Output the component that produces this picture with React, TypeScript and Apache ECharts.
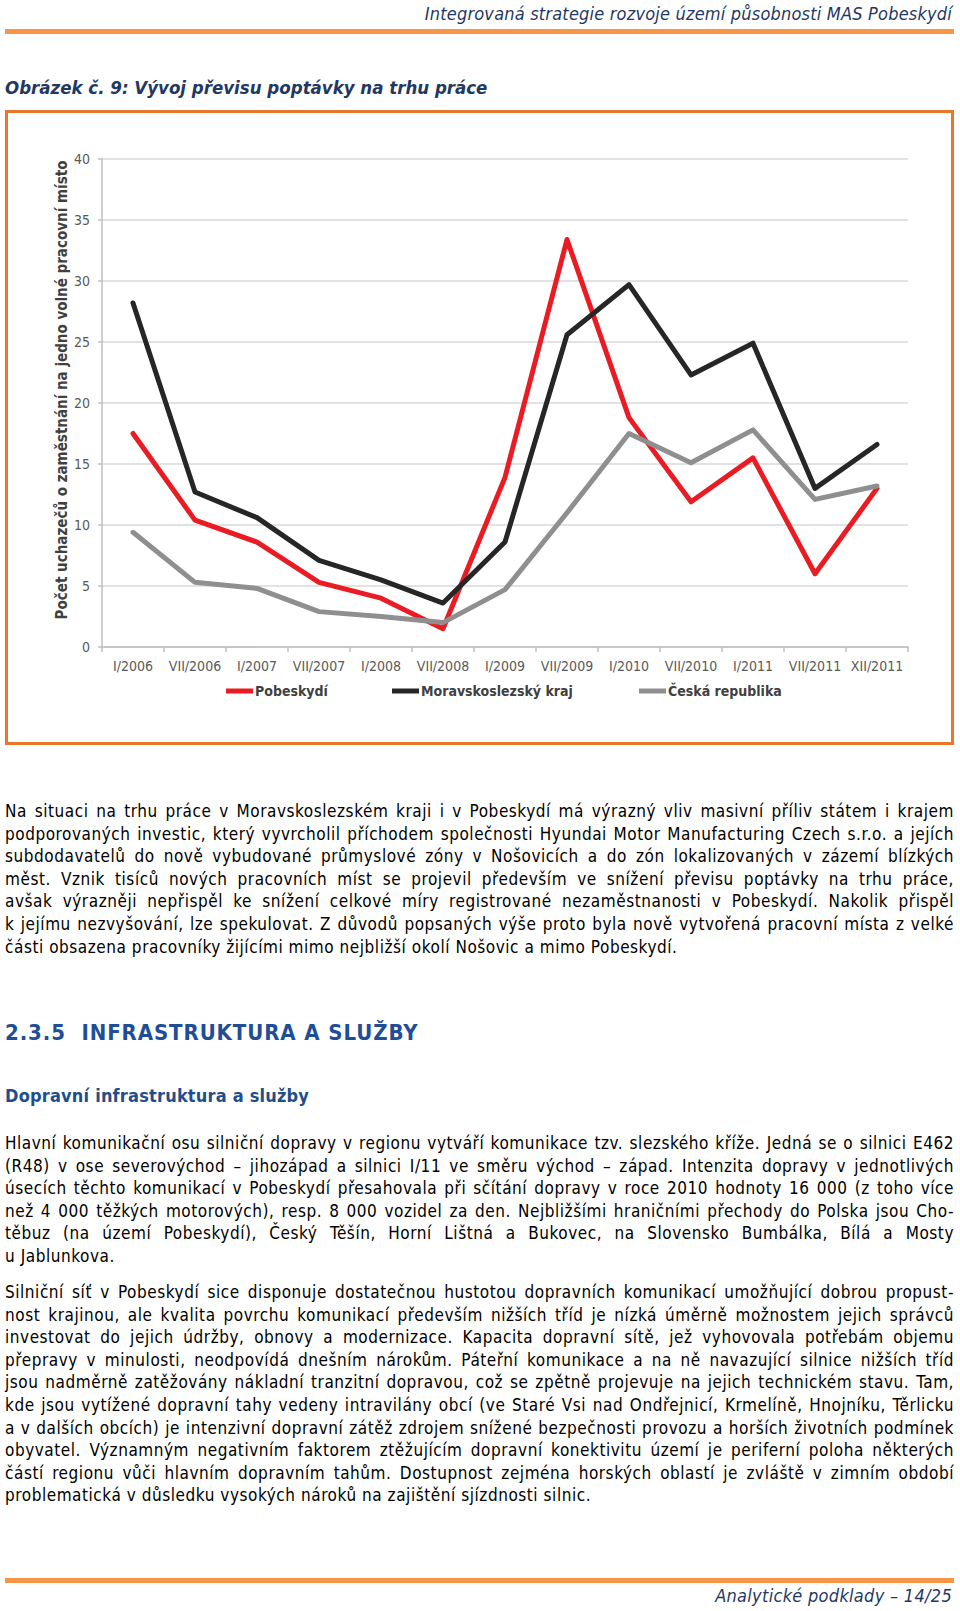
import React, { useEffect, useRef } from "react";
import * as echarts from "echarts";

const categories = ["I/2006", "VII/2006", "I/2007", "VII/2007", "I/2008", "VII/2008", "I/2009", "VII/2009", "I/2010", "VII/2010", "I/2011", "VII/2011", "XII/2011"];
const pobeskydi = [17.5, 10.4, 8.6, 5.3, 4.0, 1.5, 13.9, 33.4, 18.8, 11.9, 15.5, 6.0, 13.0];
const moravskoslezsky = [28.2, 12.7, 10.6, 7.1, 5.5, 3.6, 8.6, 25.6, 29.7, 22.3, 24.9, 13.0, 16.6];
const ceskaRepublika = [9.4, 5.3, 4.8, 2.9, 2.5, 2.0, 4.7, 11.0, 17.5, 15.1, 17.8, 12.1, 13.2];
const seriesNames = ["Pobeskydí", "Moravskoslezský kraj", "Česká republika"];
const yAxisTitle = "Počet uchazečů o zaměstnání na jedno volné pracovní místo";

const headerText = "Integrovaná strategie rozvoje území působnosti MAS Pobeskydí";
const figureTitle = "Obrázek č. 9: Vývoj převisu poptávky na trhu práce";
const sectionHeading = "2.3.5\u00a0\u00a0INFRASTRUKTURA A SLUŽBY";
const subHeading = "Dopravní infrastruktura a služby";
const footerText = "Analytické podklady – 14/25";

const para1 = [
  "Na situaci na trhu práce v Moravskoslezském kraji i v Pobeskydí má výrazný vliv masivní příliv státem i krajem",
  "podporovaných investic, který vyvrcholil příchodem společnosti Hyundai Motor Manufacturing Czech s.r.o. a jejích",
  "subdodavatelů do nově vybudované průmyslové zóny v Nošovicích a do zón lokalizovaných v zázemí blízkých",
  "měst. Vznik tisíců nových pracovních míst se projevil především ve snížení převisu poptávky na trhu práce,",
  "avšak výrazněji nepřispěl ke snížení celkové míry registrované nezaměstnanosti v Pobeskydí. Nakolik přispěl",
  "k jejímu nezvyšování, lze spekulovat. Z důvodů popsaných výše proto byla nově vytvořená pracovní místa z velké",
  "části obsazena pracovníky žijícími mimo nejbližší okolí Nošovic a mimo Pobeskydí.",
];
const para2 = [
  "Hlavní komunikační osu silniční dopravy v regionu vytváří komunikace tzv. slezského kříže. Jedná se o silnici E462",
  "(R48) v ose severovýchod – jihozápad a silnici I/11 ve směru východ – západ. Intenzita dopravy v jednotlivých",
  "úsecích těchto komunikací v Pobeskydí přesahovala při sčítání dopravy v roce 2010 hodnoty 16 000 (z toho více",
  "než 4 000 těžkých motorových), resp. 8 000 vozidel za den. Nejbližšími hraničními přechody do Polska jsou Cho-",
  "těbuz (na území Pobeskydí), Český Těšín, Horní Lištná a Bukovec, na Slovensko Bumbálka, Bílá a Mosty",
  "u Jablunkova.",
];
const para3 = [
  "Silniční síť v Pobeskydí sice disponuje dostatečnou hustotou dopravních komunikací umožňující dobrou propust-",
  "nost krajinou, ale kvalita povrchu komunikací především nižších tříd je nízká úměrně možnostem jejich správců",
  "investovat do jejich údržby, obnovy a modernizace. Kapacita dopravní sítě, jež vyhovovala potřebám objemu",
  "přepravy v minulosti, neodpovídá dnešním nárokům. Páteřní komunikace a na ně navazující silnice nižších tříd",
  "jsou nadměrně zatěžovány nákladní tranzitní dopravou, což se zpětně projevuje na jejich technickém stavu. Tam,",
  "kde jsou vytížené dopravní tahy vedeny intravilány obcí (ve Staré Vsi nad Ondřejnicí, Krmelíně, Hnojníku, Těrlicku",
  "a v dalších obcích) je intenzivní dopravní zátěž zdrojem snížené bezpečnosti provozu a horších životních podmínek",
  "obyvatel. Významným negativním faktorem ztěžujícím dopravní konektivitu území je periferní poloha některých",
  "částí regionu vůči hlavním dopravním tahům. Dostupnost zejména horských oblastí je zvláště v zimním období",
  "problematická v důsledku vysokých nároků na zajištění sjízdnosti silnic.",
];

const FONT = '"DejaVu Sans Condensed", "DejaVu Sans", sans-serif';
const NAVY = "#1F3864";
const ORANGE_BAR = "#F79646";
const ORANGE_BOX = "#E8772A";

function Paragraph({ lines, top, step }: { lines: string[]; top: number; step: number }) {
  return (
    <>
      {lines.map((t, i) => {
        const last = i === lines.length - 1;
        return (
          <div
            key={i}
            style={{
              position: "absolute",
              left: 5,
              width: 949,
              top: top + i * step - 11,
              height: 22,
              lineHeight: "22px",
              fontSize: 17,
              letterSpacing: "0.55px",
              whiteSpace: "nowrap",
              textAlign: last ? "left" : "justify",
              textAlignLast: last ? "left" : "justify",
              color: "#000",
            } as React.CSSProperties}
          >
            {t}
          </div>
        );
      })}
    </>
  );
}

function Chart() {
  const ref = useRef<HTMLDivElement>(null);
  useEffect(() => {
    if (!ref.current) return;
    const chart = echarts.init(ref.current, undefined, { renderer: "svg" });
    const colors = ["#E91C24", "#262626", "#8F8F8F"];
    const legendLefts = [226, 392, 639];
    chart.setOption({
      animation: false,
      backgroundColor: "transparent",
      grid: { left: 102, right: 52, top: 59, bottom: 113 },
      xAxis: {
        type: "category",
        data: categories,
        boundaryGap: true,
        axisLine: { show: true, lineStyle: { color: "#BFBFBF", width: 1.5 } },
        axisTick: { show: true, length: 5, lineStyle: { color: "#BFBFBF", width: 1.5 } },
        axisLabel: { interval: 0, margin: 12, fontSize: 14, color: "#595959", fontFamily: FONT },
        splitLine: { show: false },
      },
      yAxis: {
        type: "value",
        min: 0,
        max: 40,
        interval: 5,
        axisLine: { show: true, lineStyle: { color: "#BFBFBF", width: 1.5 } },
        axisTick: { show: true, length: 4, lineStyle: { color: "#BFBFBF", width: 1.5 } },
        axisLabel: { margin: 12, fontSize: 14, color: "#595959", fontFamily: FONT },
        splitLine: { show: true, lineStyle: { color: "#D9D9D9", width: 1.5 } },
      },
      legend: seriesNames.map((n, i) => ({
        data: [{ name: n, icon: "rect" }],
        left: legendLefts[i],
        top: 584,
        padding: 0,
        itemWidth: 27,
        itemHeight: 5,
        itemGap: 0,
        textStyle: { fontSize: 14, fontWeight: "bold", color: "#404040", fontFamily: FONT, padding: [0, 0, 0, -3] },
      })),
      series: [
        { name: seriesNames[0], data: pobeskydi },
        { name: seriesNames[1], data: moravskoslezsky },
        { name: seriesNames[2], data: ceskaRepublika },
      ].map((s, i) => ({
        ...s,
        type: "line",
        symbol: "none",
        color: colors[i],
        lineStyle: { width: 5, color: colors[i], cap: "round", join: "round" },
        z: 2 + i,
      })),
      graphic: [
        {
          type: "rect",
          shape: { x: 6.5, y: 11.5, width: 946, height: 632 },
          style: { fill: "none", stroke: ORANGE_BOX, lineWidth: 3 },
          silent: true,
        },
        {
          type: "text",
          x: 62,
          y: 290,
          rotation: Math.PI / 2,
          style: {
            text: yAxisTitle,
            fontSize: 15,
            fontWeight: "bold",
            fontFamily: FONT,
            fill: "#404040",
            textAlign: "center",
            textVerticalAlign: "middle",
          },
          silent: true,
        },
      ],
    });
    return () => chart.dispose();
  }, []);
  return <div ref={ref} style={{ position: "absolute", left: 0, top: 100, width: 960, height: 660 }} />;
}

export default function App() {
  return (
    <div
      style={{
        position: "absolute",
        left: 0,
        top: 0,
        width: 960,
        height: 1611,
        background: "#fff",
        overflow: "hidden",
        fontFamily: FONT,
        fontStretch: "condensed",
      }}
    >
      <div style={{ position: "absolute", right: 8, top: 3, fontSize: 18, letterSpacing: "0.2px", lineHeight: "22px", fontStyle: "italic", color: NAVY, whiteSpace: "nowrap" }}>
        {headerText}
      </div>
      <div style={{ position: "absolute", left: 5, top: 29, width: 949, height: 5, background: ORANGE_BAR }} />
      <div style={{ position: "absolute", left: 5, top: 77, fontSize: 18.5, lineHeight: "22px", fontStyle: "italic", fontWeight: "bold", color: NAVY, whiteSpace: "nowrap" }}>
        {figureTitle}
      </div>
      <Chart />
      <Paragraph lines={para1} top={811} step={22.6} />
      <div style={{ position: "absolute", left: 5, top: 1020, fontSize: 22, letterSpacing: "0.9px", lineHeight: "26px", fontWeight: "bold", color: "#1F4E96", whiteSpace: "pre" }}>
        {sectionHeading}
      </div>
      <div style={{ position: "absolute", left: 5, top: 1085, fontSize: 18, letterSpacing: "0.2px", lineHeight: "22px", fontWeight: "bold", color: "#1F4E8C", whiteSpace: "nowrap" }}>
        {subHeading}
      </div>
      <Paragraph lines={para2} top={1143} step={22.6} />
      <Paragraph lines={para3} top={1292} step={22.6} />
      <div style={{ position: "absolute", left: 5, top: 1578, width: 949, height: 5, background: ORANGE_BAR }} />
      <div style={{ position: "absolute", right: 8, top: 1585, fontSize: 18, letterSpacing: "0.3px", lineHeight: "22px", fontStyle: "italic", color: NAVY, whiteSpace: "nowrap" }}>
        {footerText}
      </div>
    </div>
  );
}
